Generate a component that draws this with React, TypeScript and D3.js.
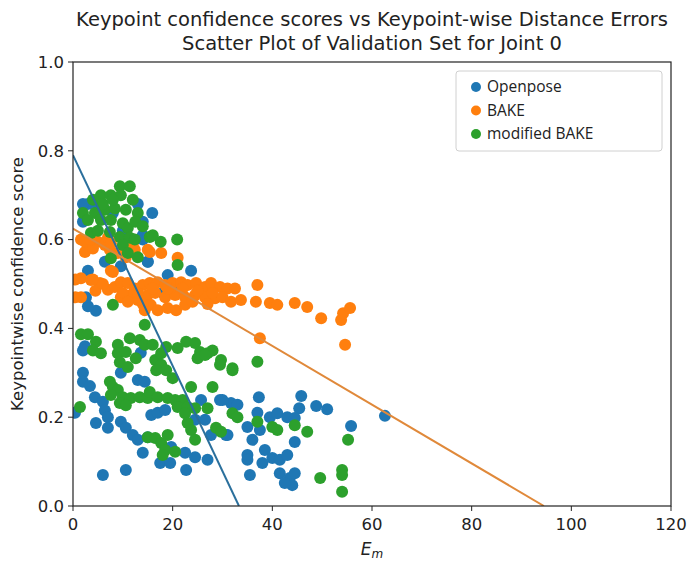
import React from "react";
import * as d3 from "d3";

// Keypoint-wise distance error (E_m) and confidence score per sample
const openposeE = [3, 2, 5, 8, 10, 12, 13, 14, 15.9, 14, 15, 19, 20, 18, 12, 3, 2.6, 4.6, 2, 6.4, 9.6, 23.7, 14, 15, 3, 2.4,
  2, 2, 2, 3.4, 4.4, 6, 6.4, 7, 4.6, 7, 9.6, 13, 14.4, 9.6, 10.6, 12, 13, 14, 15, 15.7, 17, 18.5, 17.5, 19.5, 19.7, 22.5, 22.7,
  24.5, 27, 6, 10.6, 13.6, 25.7, 29.5, 31.7, 26.5, 27.7, 30.7, 24.5, 0.4,
  37.3, 45.8, 45.4, 48.8, 51, 55.8, 62.6, 30, 33, 37, 39.5, 41, 43, 44.5, 35, 37.5, 36, 44.5, 38.5, 35, 35, 40, 41.5, 43, 38,
  35.5, 41.5, 43.5, 44, 42.5, 44.5, 31];
const openposeS = [0.68, 0.64, 0.67, 0.66, 0.62, 0.60, 0.68, 0.64, 0.66, 0.60, 0.55, 0.52, 0.50, 0.48, 0.47, 0.53, 0.47, 0.44, 0.68, 0.55, 0.54, 0.53, 0.61, 0.55, 0.45, 0.36,
  0.35, 0.30, 0.28, 0.27, 0.245, 0.235, 0.215, 0.20, 0.187, 0.176, 0.30, 0.284, 0.28, 0.19, 0.176, 0.16, 0.149, 0.12, 0.155, 0.205, 0.21, 0.216, 0.097, 0.097, 0.133, 0.12, 0.081,
  0.11, 0.104, 0.07, 0.081, 0.345, 0.239, 0.239, 0.232, 0.194, 0.16, 0.16, 0.194, 0.21,
  0.245, 0.248, 0.22, 0.225, 0.218, 0.18, 0.203, 0.239, 0.228, 0.21, 0.20, 0.209, 0.20, 0.198, 0.178, 0.171, 0.149, 0.144, 0.126, 0.115, 0.104, 0.108, 0.104, 0.115, 0.097,
  0.07, 0.074, 0.063, 0.047, 0.052, 0.074, 0.16];

const bakeE = [1.6, 3, 2.4, 5, 6.4, 7.4, 9, 10.6, 7, 12.4, 15.4, 17.7, 21, 8, 1.6, 3.6, 5.4, 1.6, 7, 8.4, 9.6, 11, 12.4, 14,
  15.4, 17, 18.5, 20, 21.7, 23, 24.7, 26.5, 27.7, 29.5, 31, 32.5, 9.6, 11.6, 13, 15, 16.5, 18.5, 20.5, 22.5, 24.5, 26.5, 28.5,
  30, 31.7, 33.7, 36.7, 39.5, 41, 44.5, 47, 49.8, 53.8, 54.2, 55.6, 54.6, 37.5, 37, 15.6, 17, 19, 20.7, 22.5, 14.4, 2.4, 4,
  7.6, 7.6, 15, 12, 4.5, 10, 19.5,
  0.5, 0.5, 4, 6, 13, 16, 19, 22, 25, 28, 11, 14, 24, 27, 10.5, 12, 3.5];
const bakeS = [0.60, 0.588, 0.572, 0.595, 0.588, 0.577, 0.57, 0.56, 0.604, 0.577, 0.572, 0.57, 0.559, 0.527, 0.513, 0.509, 0.502, 0.47, 0.487, 0.493, 0.504, 0.502, 0.49, 0.498,
  0.502, 0.504, 0.498, 0.502, 0.504, 0.498, 0.502, 0.493, 0.502, 0.493, 0.49, 0.49, 0.47, 0.475, 0.464, 0.475, 0.48, 0.47, 0.475, 0.47, 0.475, 0.47, 0.468,
  0.47, 0.46, 0.464, 0.46, 0.457, 0.453, 0.457, 0.448, 0.423, 0.419, 0.434, 0.446, 0.363, 0.378, 0.498, 0.453, 0.441, 0.446, 0.441, 0.453, 0.441, 0.595, 0.58,
  0.592, 0.53, 0.577, 0.59, 0.485, 0.48, 0.49,
  0.51, 0.47, 0.51, 0.50, 0.48, 0.49, 0.49, 0.49, 0.485, 0.48, 0.46, 0.455, 0.46, 0.455, 0.59, 0.60, 0.60];

const modBakeE = [9.4, 11.4, 5.6, 4, 7.6, 9.6, 12, 2, 4.4, 6.4, 8.4, 10.6, 13, 3, 5.6, 7.6, 10, 11, 7.4, 9.4, 11.4, 10, 12.4, 15.4,
  17.6, 3.6, 11, 13, 7.6, 21, 20.9, 8, 14.4,
  1.6, 3, 4.6, 4, 5.6, 9, 11.4, 13.4, 14.4, 16, 9, 10.6, 12.6, 9.4, 11, 16.5, 17.7, 18.7, 21, 22.7, 24.5, 25.5, 27, 28, 25,
  29.7, 32, 17.7, 16.7, 18.7, 20, 23.7, 28, 7.4, 8, 9, 7.6, 10, 9.4, 11.6, 13.4, 10.6, 15, 15.4, 17, 19, 20.5, 22, 21, 23,
  22.5, 24.5, 27, 23, 23.7, 24.5, 28.7, 29.7, 15, 16.5, 17.7, 18.5, 18, 19, 20.5, 1.4,
  32, 37, 32, 33, 37, 40, 41, 44.5, 47, 55.2, 54, 54, 49.6, 54, 29.5, 26.5,
  6, 8, 12.5, 14, 5, 16];
const modBakeS = [0.72, 0.72, 0.70, 0.69, 0.70, 0.70, 0.69, 0.66, 0.66, 0.667, 0.67, 0.667, 0.66, 0.644, 0.644, 0.644, 0.637, 0.626, 0.617, 0.606, 0.604, 0.588, 0.60, 0.606,
  0.595, 0.615, 0.57, 0.56, 0.558, 0.543, 0.60, 0.453, 0.408,
  0.387, 0.387, 0.37, 0.35, 0.344, 0.363, 0.378, 0.374, 0.363, 0.363, 0.344, 0.347, 0.333, 0.324, 0.313, 0.329, 0.344, 0.358, 0.356, 0.37, 0.367, 0.347, 0.344, 0.35, 0.333,
  0.329, 0.31, 0.318, 0.306, 0.306, 0.288, 0.268, 0.268, 0.28, 0.268, 0.261, 0.25, 0.245, 0.232, 0.243, 0.245, 0.227, 0.243, 0.257, 0.245, 0.243, 0.239, 0.239, 0.223, 0.223,
  0.209, 0.22, 0.22, 0.187, 0.171, 0.149, 0.176, 0.167, 0.155, 0.153, 0.142, 0.126, 0.115, 0.16, 0.122, 0.223,
  0.306, 0.325, 0.209, 0.20, 0.19, 0.178, 0.171, 0.182, 0.167, 0.149, 0.081, 0.07, 0.063, 0.032, 0.318, 0.34,
  0.68, 0.69, 0.64, 0.63, 0.62, 0.61];

// Linear fit lines: [y-intercept, x-intercept]
const fitOpenpose = [0.79, 33.3];
const fitBake = [0.625, 94.5];

const xTicks = [0, 20, 40, 60, 80, 100, 120];
const yTicks = [0.0, 0.2, 0.4, 0.6, 0.8, 1.0];

const seriesNames = ["Openpose", "BAKE", "modified BAKE"];
const colors = ["#1f77b4", "#ff7f0e", "#2ca02c"];

const W = 688;
const H = 563;
const left = 73;
const right = 671;
const top = 62;
const bottom = 506;

export default function App() {
  const x = d3.scaleLinear().domain([0, 120]).range([left, right]);
  const y = d3.scaleLinear().domain([0, 1]).range([bottom, top]);

  const series = [
    { name: seriesNames[0], e: openposeE, s: openposeS, color: colors[0] },
    { name: seriesNames[1], e: bakeE, s: bakeS, color: colors[1] },
    { name: seriesNames[2], e: modBakeE, s: modBakeS, color: colors[2] },
  ];

  const line = d3.line<[number, number]>().x((d) => x(d[0])).y((d) => y(d[1]));
  const fits = [
    { f: fitOpenpose, color: "#2a6f9c" },
    { f: fitBake, color: "#e0893a" },
  ];

  const font = "'DejaVu Sans', sans-serif";

  return (
    <svg width={W} height={H} style={{ position: "absolute", left: 0, top: 0, background: "#fff" }}>
      <defs>
        <clipPath id="plotArea">
          <rect x={left} y={top} width={right - left} height={bottom - top} />
        </clipPath>
      </defs>
      <text x={(left + right) / 2} y={26} textAnchor="middle" fontFamily={font} fontSize={19.5} fill="#222">
        Keypoint confidence scores vs Keypoint-wise Distance Errors
      </text>
      <text x={(left + right) / 2} y={50} textAnchor="middle" fontFamily={font} fontSize={19.5} fill="#222">
        Scatter Plot of Validation Set for Joint 0
      </text>

      <g clipPath="url(#plotArea)">
        {series.map((sr) => (
          <g key={sr.name}>
            {sr.e.map((e, i) => (
              <circle key={i} cx={x(e)} cy={y(sr.s[i])} r={6} fill={sr.color} />
            ))}
          </g>
        ))}
        {fits.map((fl, i) => (
          <path
            key={i}
            d={line([[0, fl.f[0]], [fl.f[1], 0]]) || ""}
            stroke={fl.color}
            strokeWidth={2}
            fill="none"
          />
        ))}
      </g>

      <rect x={left} y={top} width={right - left} height={bottom - top} fill="none" stroke="#222" strokeWidth={1.2} />

      {xTicks.map((t) => (
        <g key={t} transform={`translate(${x(t)},${bottom})`}>
          <line y2={5} stroke="#222" />
          <text y={24} textAnchor="middle" fontFamily={font} fontSize={16.5} fill="#222">
            {t}
          </text>
        </g>
      ))}
      {yTicks.map((t) => (
        <g key={t} transform={`translate(${left},${y(t)})`}>
          <line x2={-5} stroke="#222" />
          <text x={-9} dy="0.35em" textAnchor="end" fontFamily={font} fontSize={16.5} fill="#222">
            {t.toFixed(1)}
          </text>
        </g>
      ))}

      <text x={(left + right) / 2} y={555} textAnchor="middle" fontFamily={font} fontSize={17} fontStyle="italic" fill="#222">
        E<tspan fontSize={12} dy={3}>m</tspan>
      </text>
      <text
        transform={`translate(23,${(top + bottom) / 2}) rotate(-90)`}
        textAnchor="middle"
        fontFamily={font}
        fontSize={16.5}
        fill="#222"
      >
        Keypointwise confidence score
      </text>

      <g transform="translate(456,71)">
        <rect width={206} height={80} rx={3} fill="#fff" stroke="#d0d0d0" />
        {series.map((sr, i) => (
          <g key={sr.name} transform={`translate(0,${16 + i * 23.5})`}>
            <circle cx={20} cy={0} r={5} fill={sr.color} />
            <text x={31} dy="0.35em" fontFamily="'Open Sans', sans-serif" fontSize={15.5} fill="#222">
              {sr.name}
            </text>
          </g>
        ))}
      </g>
    </svg>
  );
}
